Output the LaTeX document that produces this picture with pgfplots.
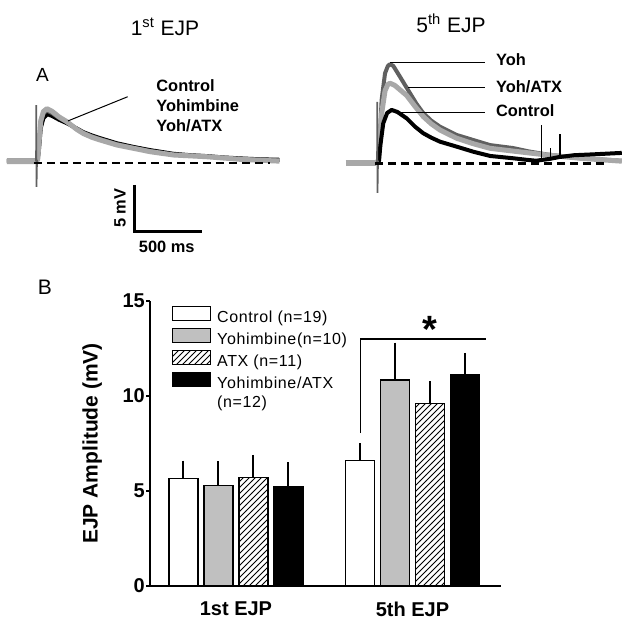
\documentclass[border=0pt]{standalone}
\usepackage{fontspec}
\setmainfont{Liberation Sans}
\newfontfamily\legfont[LetterSpace=4]{Liberation Sans}
\usepackage{pgfplots}
\pgfplotsset{compat=1.18}
\usetikzlibrary{patterns}
\pgfplotsset{barleg/.style={legend image code/.code={\draw[##1] (0pt,-1.2pt) rectangle (18.8pt,5.8pt);}}}
\definecolor{ltgray}{RGB}{168,168,168}
\definecolor{dkgray}{RGB}{96,96,96}
\definecolor{bargray}{RGB}{192,192,192}
\begin{document}
\begin{tikzpicture}[x=0.5pt,y=0.5pt]
\path[use as bounding box] (0,0) rectangle (629,625);
% titles
\node[font=\fontsize{10.5}{12}\selectfont] at (165,598) {1\textsuperscript{st} EJP};
\node[font=\fontsize{10.5}{12}\selectfont] at (451,601.7) {5\textsuperscript{th} EJP};
\node[font=\fontsize{9.5}{11}\selectfont] at (42.5,550) {A};
\node[font=\fontsize{10.5}{12}\selectfont] at (45,337.5) {B};
% labels panel A
\begin{scope}[font=\bfseries\fontsize{8.2}{10}\selectfont, inner sep=0pt]
\node[anchor=base west] at (156,533.3) {Control};
\node[anchor=base west] at (156,513.3) {Yohimbine};
\node[anchor=base west] at (156,493.3) {Yoh/ATX};
\node[anchor=base west] at (495.7,559.1) {Yoh};
\node[anchor=base west] at (495.7,532.7) {Yoh/ATX};
\node[anchor=base west] at (495.7,508.3) {Control};
\node[rotate=90] at (120,416.7) {5 mV};
\node at (166.7,378.3) {500 ms};
\end{scope}

% ---------- Panel A left ----------
\begin{axis}[at={(3.38pt,217.2pt)}, anchor=south west, x=0.068pt, y=4.6pt,
  xmin=-215, xmax=1800, ymin=-3, ymax=8, hide axis, clip=false, enlargelimits=false]
\addplot[black, line width=2pt, line join=round, no marks] coordinates {
(-215,0.25) (-10,0.25) (12,0.3) (22,1.5) (35,3.8) (55,4.9) (85,5.3) (120,5.1) (170,4.7) (230,4.3) (300,3.75) (348,3.35) (410,3.0) (471,2.7) (593,2.15) (715,1.75) (838,1.4) (1010,1.0) (1130,0.85) (1255,0.75) (1380,0.6) (1500,0.5) (1650,0.4) (1790,0.35)};
\addplot[dkgray, line width=2pt, line join=round, no marks] coordinates {
(-215,0.2) (-10,0.2) (12,0.3) (22,2) (35,4.3) (55,5.4) (80,5.7) (120,5.4) (170,4.9) (230,4.4) (300,3.7) (348,3.3) (410,2.9) (471,2.6) (593,2.05) (715,1.65) (838,1.3) (1010,0.92) (1255,0.7) (1500,0.45) (1790,0.3)};
\addplot[ltgray, line width=2.5pt, line join=round, no marks] coordinates {
(-215,0.15) (-10,0.15) (12,0.3) (22,2.2) (35,4.6) (55,5.6) (80,5.9) (120,5.6) (170,5.0) (226,4.5) (300,3.65) (348,3.2) (410,2.8) (471,2.5) (593,1.96) (715,1.6) (838,1.23) (1010,0.87) (1255,0.68) (1500,0.4) (1790,0.2)};
\addplot[dkgray, line width=0.8pt, no marks] coordinates {(0,0.2) (2,6.3) (4,-2.6) (8,0.3)};
\addplot[black, line width=1.1pt, dash pattern=on 4pt off 2.5pt, no marks] coordinates {(-15,0) (1720,0)};
\addplot[black, line width=0.5pt, no marks] coordinates {(674,7.2) (235,4.57)};
\addplot[black, line width=1.3pt, no marks] coordinates {(723,-2.39) (723,-7.47) (1223,-7.47)};
\end{axis}

% ---------- Panel A right ----------
\begin{axis}[at={(172.86pt,214.65pt)}, anchor=south west, x=0.068pt, y=4.6pt,
  xmin=-230, xmax=1800, ymin=-3.5, ymax=12, hide axis, clip=false, enlargelimits=false]
\addplot[dkgray, line width=2pt, line join=round, no marks] coordinates {
(-10,0.05) (10,0.3) (20,2.5) (34,6.9) (59,9.8) (80,10.6) (96,10.8) (120,10.6) (169,9.43) (243,7.63) (290,6.5) (341,5.46) (400,4.65) (463,4.0) (586,3.1) (708,2.55) (831,2.0) (1000,1.68) (1120,1.3) (1250,0.98) (1490,0.6) (1800,0.3)};
\addplot[ltgray, line width=2.5pt, line join=round, no marks] coordinates {
(-10,0.05) (10,0.3) (20,2.0) (34,5.4) (59,7.9) (80,8.6) (96,8.72) (130,8.5) (218,7.4) (280,6.2) (341,5.09) (400,4.3) (463,3.64) (586,2.74) (708,2.15) (831,1.65) (1000,1.35) (1250,0.92) (1490,0.57) (1800,0.25)};
\addplot[black, line width=2pt, line join=round, no marks] coordinates {
(0,0.05) (15,0.3) (25,2.0) (46,4.37) (75,5.5) (108,5.82) (150,5.6) (218,4.91) (280,4.0) (341,3.28) (400,2.8) (463,2.37) (586,1.83) (708,1.28) (831,0.82) (1000,0.57) (1100,0.4) (1170,0.3) (1270,0.5) (1340,0.7) (1450,0.9) (1600,1.0) (1800,1.15)};
\addplot[black, line width=0.8pt, no marks] coordinates {(1211,0.35) (1211,4.2)};
\addplot[black, line width=0.8pt, no marks] coordinates {(1277,0.5) (1277,1.7)};
\addplot[black, line width=0.8pt, no marks] coordinates {(1346,0.7) (1346,3.2)};
\addplot[ltgray, line width=3pt, no marks] coordinates {(-230,0.05) (-5,0.05)};
\addplot[dkgray, line width=0.8pt, no marks] coordinates {(0,0.05) (2,6.7) (4,-3.2) (8,0.3)};
\addplot[black, line width=1.1pt, dash pattern=on 4pt off 2.5pt, no marks] coordinates {(-15,0) (1690,0)};
\addplot[black, line width=0.5pt, no marks] coordinates {(96,11.03) (794,11.03)};
\addplot[black, line width=0.5pt, no marks] coordinates {(230,8.28) (794,8.28)};
\addplot[black, line width=0.5pt, no marks] coordinates {(169,5.52) (794,5.52)};
\end{axis}

% ---------- Panel B ----------
\begin{axis}[at={(75pt,19.5pt)}, anchor=south west, width=175.5pt, height=142.5pt, scale only axis,
  xmin=-0.487, xmax=1.501, ymin=0, ymax=15,
  ybar=3pt, bar width=14.5pt,
  axis lines*=left, axis line style={-, line width=1pt}, y axis line style={line width=1.4pt},
  xtick={0,1}, xticklabels={1st EJP,5th EJP}, xtick style={draw=none},
  ytick={0,5,10,15}, tick align=outside, major tick length=1.8pt, ytick style={line width=1.2pt, black},
  /pgf/number format/assume math mode=true,
  yticklabel style={font=\bfseries\fontsize{10}{12}\selectfont, inner sep=0.6pt},
  xticklabel style={font=\bfseries\fontsize{10}{12}\selectfont, yshift=-2.5pt},
  ylabel={EJP Amplitude (mV)},
  every axis y label/.style={at={(axis description cs:-0.165,0.5)}, rotate=90, anchor=center, font=\bfseries\fontsize{10.5}{12}\selectfont},
  legend cell align=left,
  legend style={at={(0.062,0.985)}, anchor=north west, draw=none, fill=none, inner sep=0pt,
    row sep=0.85pt, nodes={inner sep=0.5pt}, font=\legfont\fontsize{8}{9.6}\selectfont,
    /tikz/every odd column/.append style={column sep=2.6pt}},
  error bars/y dir=plus, error bars/y explicit,
  error bars/error bar style={line width=1pt, black},
  error bars/error mark options={line width=1pt, mark size=2.6pt, black},
  clip=false]
\addplot[draw=black, fill=white, line width=0.6pt, barleg] coordinates {(0,5.65) +- (0,0.68) (1,6.6) +- (0,0.63)};
\addlegendentry{Control (n=19)}
\addplot[draw=black, fill=bargray, line width=0.6pt, barleg] coordinates {(0,5.30) +- (0,1.0) (1,10.84) +- (0,1.70)};
\addlegendentry{Yohimbine(n=10)}
\addplot[draw=black, pattern=north east lines, line width=0.6pt, barleg] coordinates {(0,5.70) +- (0,0.93) (1,9.61) +- (0,0.88)};
\addlegendentry{ATX (n=11)}
\addplot[draw=black, fill=black, line width=0.6pt, barleg] coordinates {(0,5.21) +- (0,1.04) (1,11.14) +- (0,0.86)};
\addlegendentry{Yohimbine/ATX}
\addlegendimage{empty legend}
\addlegendentry{(n=12)}
\draw[black, line width=0.6pt] (axis cs:0.703,8.04) -- (axis cs:0.703,13.0) -- (axis cs:1.416,13.0);
\node[anchor=north, inner sep=0pt, font=\bfseries\fontsize{19}{19}\selectfont] at (axis cs:1.099,14.19) {*};
\end{axis}
\end{tikzpicture}
\end{document}
